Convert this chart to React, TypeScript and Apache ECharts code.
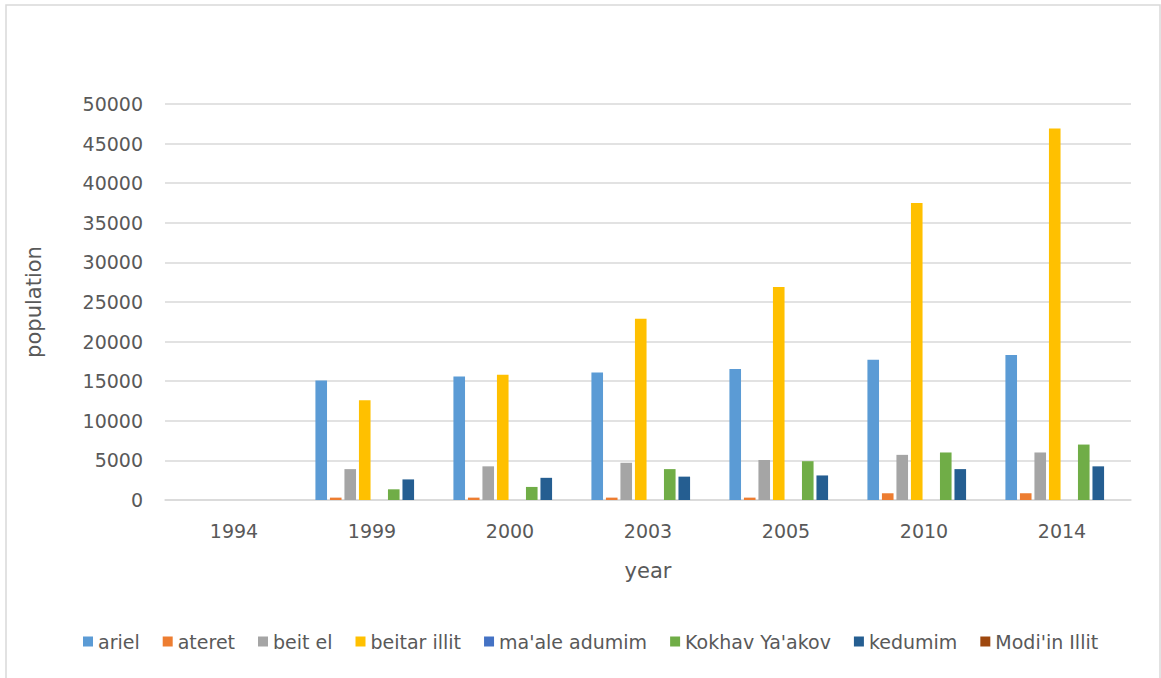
import React, { useEffect, useRef } from "react";
import * as echarts from "echarts";

const years = ["1994", "1999", "2000", "2003", "2005", "2010", "2014"];
const seriesNames = [
  "ariel",
  "ateret",
  "beit el",
  "beitar illit",
  "ma'ale adumim",
  "Kokhav Ya'akov",
  "kedumim",
  "Modi'in Illit",
];
const colors = ["#5B9BD5", "#ED7D31", "#A5A5A5", "#FFC000", "#4472C4", "#70AD47", "#255E91", "#9E480E"];

const ariel = [0, 15100, 15600, 16100, 16550, 17700, 18300];
const ateret = [0, 300, 300, 300, 300, 850, 850];
const beitEl = [0, 3900, 4250, 4700, 5050, 5700, 6000];
const beitarIllit = [0, 12600, 15800, 22900, 26900, 37500, 46900];
const maaleAdumim = [0, 0, 0, 0, 0, 0, 0];
const kokhavYaakov = [0, 1350, 1650, 3900, 4900, 6000, 7000];
const kedumim = [0, 2600, 2800, 2950, 3100, 3900, 4250];
const modiinIllit = [0, 0, 0, 0, 0, 0, 0];

const allValues = [ariel, ateret, beitEl, beitarIllit, maaleAdumim, kokhavYaakov, kedumim, modiinIllit];

const FONT = "DejaVu Sans";
const TXT = "#595959";

export default function App() {
  const ref = useRef<HTMLDivElement>(null);
  useEffect(() => {
    document.body.style.margin = "0";
    if (!ref.current) return;
    const chart = echarts.init(ref.current, undefined, { renderer: "svg" });
    chart.setOption({
      animation: false,
      backgroundColor: "#ffffff",
      color: colors,
      textStyle: { fontFamily: FONT },
      graphic: [
        {
          type: "rect",
          shape: { x: 6, y: 5, width: 1154, height: 700 },
          style: { fill: "none", stroke: "#d9d9d9", lineWidth: 1.5 },
          silent: true,
        },
      ],
      grid: { left: 165, right: 30, top: 104, bottom: 178, containLabel: false },
      legend: {
        left: 78,
        top: 627,
        itemWidth: 10,
        itemHeight: 10,
        itemGap: 23,
        icon: "rect",
        textStyle: { fontFamily: FONT, fontSize: 19, color: TXT },
        data: seriesNames,
      },
      xAxis: {
        type: "category",
        data: years,
        name: "year",
        nameLocation: "middle",
        nameGap: 60,
        nameTextStyle: { fontFamily: FONT, fontSize: 21, color: TXT },
        axisLine: { lineStyle: { color: "#d9d9d9", width: 1.5 } },
        axisTick: { show: false },
        axisLabel: { fontFamily: FONT, fontSize: 19, color: TXT, margin: 21 },
      },
      yAxis: {
        type: "value",
        min: 0,
        max: 50000,
        interval: 5000,
        name: "population",
        nameLocation: "middle",
        nameRotate: 90,
        nameGap: 121,
        nameTextStyle: { fontFamily: FONT, fontSize: 21, color: TXT },
        axisLine: { show: false },
        axisTick: { show: false },
        axisLabel: {
          fontFamily: FONT,
          fontSize: 19,
          color: TXT,
          margin: 22,
          formatter: (v: number) => String(v),
        },
        splitLine: { lineStyle: { color: "#d9d9d9", width: 1.5 } },
      },
      series: seriesNames.map((name, i) => ({
        name,
        type: "bar",
        data: allValues[i],
        barGap: "25%",
        barCategoryGap: "18%",
        itemStyle: { color: colors[i] },
      })),
    });
    return () => chart.dispose();
  }, []);
  return <div ref={ref} style={{ width: 1161, height: 678 }} />;
}
